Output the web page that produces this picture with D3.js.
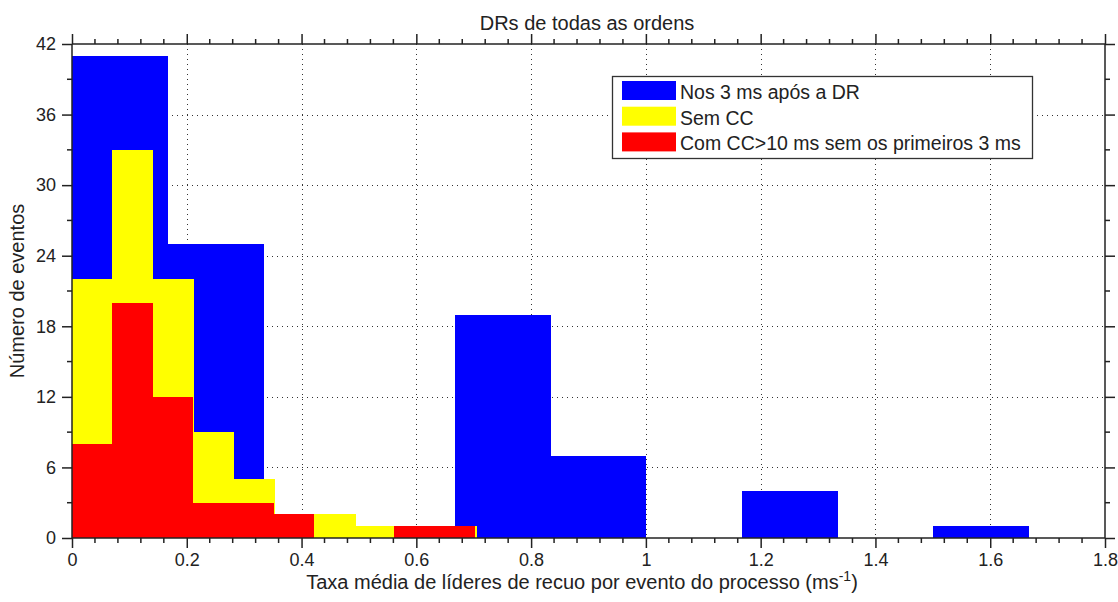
<!DOCTYPE html>
<html>
<head>
<meta charset="utf-8">
<script src="https://cdn.jsdelivr.net/npm/d3@7"></script>
<style>
  html, body { margin: 0; padding: 0; background: #fff; }
  svg { display: block; }
  text { font-family: "Liberation Sans", Arial, sans-serif; fill: #222; }
</style>
</head>
<body>
<svg id="chart" width="1118" height="602"></svg>
<script>
// ---- data ----
const seriesNames = ["Nos 3 ms após a DR", "Sem CC", "Com CC>10 ms sem os primeiros 3 ms"];
const seriesColors = ["#0000ff", "#ffff00", "#ff0000"];

// blue: 10 bins from 0 to 1.6667
const blueMax = 1.6667;
const blueCounts = [41, 25, 0, 0, 19, 7, 0, 4, 0, 1];
// yellow: 10 bins from 0 to 0.7056
const yellowMax = 0.7056;
const yellowCounts = [22, 33, 22, 9, 5, 2, 2, 1, 1, 1];
// red: 10 bins from 0 to 0.702
const redMax = 0.702;
const redCounts = [8, 20, 12, 3, 3, 2, 0, 0, 1, 1];

const xTicks = [0, 0.2, 0.4, 0.6, 0.8, 1, 1.2, 1.4, 1.6, 1.8];
const yTicks = [0, 6, 12, 18, 24, 30, 36, 42];

const titleText = "DRs de todas as ordens";
const yLabelText = "Número de eventos";
const xLabelMain = "Taxa média de líderes de recuo por evento do processo (ms";
const xLabelSup = "-1";
const xLabelEnd = ")";

(function () {
const svg = d3.select("#chart");
const pL = 72, pR = 1105, pT = 44, pB = 538;
const x = d3.scaleLinear().domain([0, 1.8]).range([pL, pR]);
const y = d3.scaleLinear().domain([0, 42]).range([pB, pT]);

// grid (dotted)
const grid = svg.append("g").attr("stroke", "#333").attr("stroke-width", 1)
  .attr("stroke-dasharray", "1,4");
xTicks.filter(t => t > 0 && t < 1.8).forEach(t => {
  grid.append("line").attr("x1", Math.round(x(t)) + 0.5).attr("x2", Math.round(x(t)) + 0.5)
    .attr("y1", pT).attr("y2", pB);
});
yTicks.filter(t => t > 0 && t < 42).forEach(t => {
  grid.append("line").attr("y1", Math.round(y(t)) + 0.5).attr("y2", Math.round(y(t)) + 0.5)
    .attr("x1", pL).attr("x2", pR);
});

// bars
function bins(counts, maxV) {
  const w = maxV / counts.length;
  return counts.map((c, i) => ({ x0: i * w, x1: (i + 1) * w, c }));
}
const all = [bins(blueCounts, blueMax), bins(yellowCounts, yellowMax), bins(redCounts, redMax)];
all.forEach((b, si) => {
  svg.append("g").selectAll("rect").data(b.filter(d => d.c > 0)).join("rect")
    .attr("x", d => x(d.x0))
    .attr("width", d => x(d.x1) - x(d.x0) + 0.4)
    .attr("y", d => y(d.c))
    .attr("height", d => y(0) - y(d.c))
    .attr("fill", seriesColors[si])
    .attr("shape-rendering", "crispEdges");
});

// axes
const axisColor = "#222";
const xAxisB = d3.axisBottom(x).tickValues(xTicks).tickSize(10).tickPadding(5)
  .tickFormat(d => d3.format("")(d));
const xAxisT = d3.axisTop(x).tickValues(xTicks).tickSize(10).tickFormat("");
const yAxisL = d3.axisLeft(y).tickValues(yTicks).tickSize(10).tickPadding(6);
const yAxisR = d3.axisRight(y).tickValues(yTicks).tickSize(10).tickFormat("");
const xMinor = d3.range(0, 1.8001, 0.04).filter(v => Math.abs(v / 0.2 - Math.round(v / 0.2)) > 1e-6);
const yMinor = d3.range(3, 42, 6);

function styleAxis(g) {
  g.select(".domain").attr("stroke", axisColor).attr("stroke-width", 1.5);
  g.selectAll(".tick line").attr("stroke", axisColor).attr("stroke-width", 1.5);
  g.selectAll(".tick text").attr("font-size", 18).attr("fill", "#222")
    .attr("font-family", "'Liberation Sans', Arial, sans-serif");
}
const gB = svg.append("g").attr("transform", `translate(0,${pB})`).call(xAxisB).call(styleAxis);
const gT = svg.append("g").attr("transform", `translate(0,${pT})`).call(xAxisT).call(styleAxis);
const gL = svg.append("g").attr("transform", `translate(${pL},0)`).call(yAxisL).call(styleAxis);
const gR = svg.append("g").attr("transform", `translate(${pR},0)`).call(yAxisR).call(styleAxis);
gB.select(".domain").attr("d", `M${pL},0H${pR}`);
gT.select(".domain").attr("d", `M${pL},0H${pR}`);
gL.select(".domain").attr("d", `M0,${pT}V${pB}`);
gR.select(".domain").attr("d", `M0,${pT}V${pB}`);

// minor ticks
const minor = svg.append("g").attr("stroke", axisColor).attr("stroke-width", 1.5);
xMinor.forEach(v => {
  minor.append("line").attr("x1", x(v)).attr("x2", x(v)).attr("y1", pB).attr("y2", pB + 5);
  minor.append("line").attr("x1", x(v)).attr("x2", x(v)).attr("y1", pT).attr("y2", pT - 5);
});
yMinor.forEach(v => {
  minor.append("line").attr("y1", y(v)).attr("y2", y(v)).attr("x1", pL).attr("x2", pL - 5);
  minor.append("line").attr("y1", y(v)).attr("y2", y(v)).attr("x1", pR).attr("x2", pR + 5);
});

// legend
const lg = svg.append("g");
lg.append("rect").attr("x", 612.5).attr("y", 76.5).attr("width", 420).attr("height", 82)
  .attr("fill", "#fff").attr("stroke", "#333").attr("stroke-width", 1.3);
seriesNames.forEach((n, i) => {
  const yy = 81 + i * 25.7;
  lg.append("rect").attr("x", 622).attr("y", yy).attr("width", 54).attr("height", 19)
    .attr("fill", seriesColors[i]);
  lg.append("text").attr("x", 680).attr("y", yy + 18).attr("font-size", 19.5).text(n);
});

// title
svg.append("text").attr("x", 587).attr("y", 30).attr("text-anchor", "middle")
  .attr("font-size", 20).text(titleText);

// x label with superscript
const xl = svg.append("text").attr("x", 582).attr("y", 589).attr("text-anchor", "middle")
  .attr("font-size", 20);
xl.append("tspan").text(xLabelMain);
xl.append("tspan").attr("dy", -8).attr("font-size", 14).text(xLabelSup);
xl.append("tspan").attr("dy", 8).text(xLabelEnd);

// y label
svg.append("text").attr("transform", `translate(24,${(pT + pB) / 2}) rotate(-90)`)
  .attr("text-anchor", "middle").attr("font-size", 20).text(yLabelText);
})();
</script>
</body>
</html>
